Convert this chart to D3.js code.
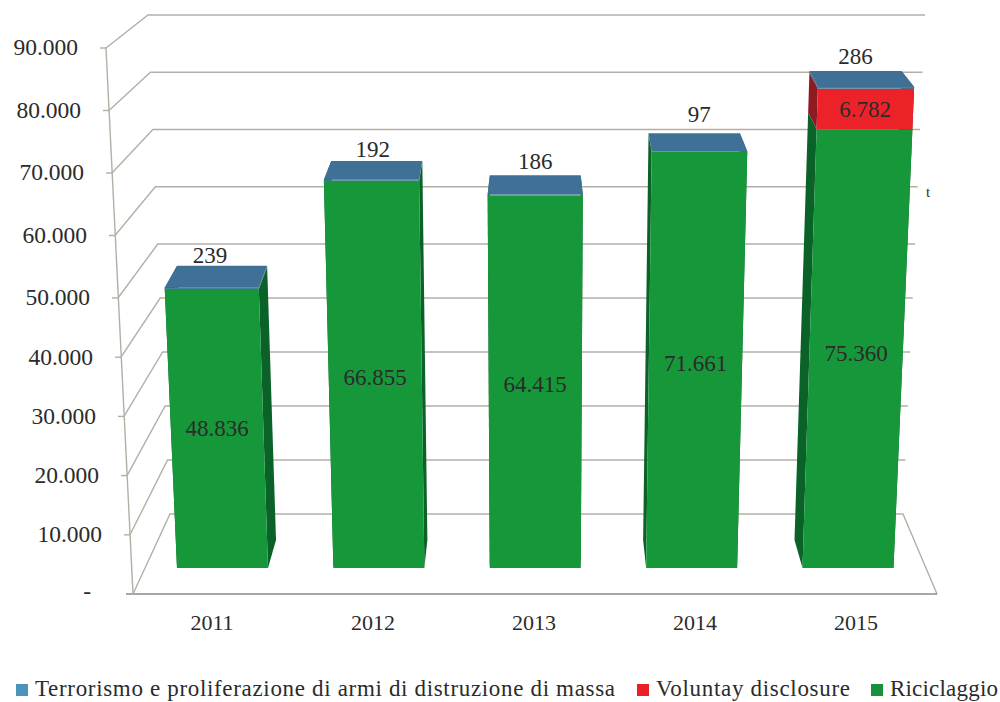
<!DOCTYPE html>
<html>
<head>
<meta charset="utf-8">
<script src="https://cdn.jsdelivr.net/npm/d3@7"></script>
<style>
  html, body { margin: 0; padding: 0; background: #fff; }
  svg { display: block; }
  text { font-family: "Liberation Serif", serif; fill: #2b2b2b; }
</style>
</head>
<body>
<svg id="chart" width="1000" height="702"></svg>
<script>
const years = ["2011", "2012", "2013", "2014", "2015"];
const riciclaggio = [48836, 66855, 64415, 71661, 75360];
const voluntary = [0, 0, 0, 0, 6782];
const terrorismo = [239, 192, 186, 97, 286];

const valueTicks = [10000, 20000, 30000, 40000, 50000, 60000, 70000, 80000, 90000];
const formatIt = v => d3.format(",")(v).replace(/,/g, ".");

const colors = {
  riciclaggio: { front: "#16973a", side: "#0b6229", top: "#16973a" },
  voluntary: { front: "#ec2228", side: "#8e1a22", top: "#ec2228" },
  terrorismo: { front: "#4a7f9e", side: "#2f5a6e", top: "#3f7196" }
};
const legendItems = [
  { name: "Terrorismo e proliferazione di armi di distruzione di massa", swatch: "#4a93ba", x: 16, textX: 35, len: 580 },
  { name: "Voluntay disclosure", swatch: "#ea2027", x: 637, textX: 656, len: 194 },
  { name: "Riciclaggio", swatch: "#17913a", x: 871, textX: 890, len: 108 }
];

const svg = d3.select("#chart");

// Perspective frame: the front and back planes of the box each have their own value scale.
const knots = [0, 50000, 90000];
const frameFrontY = d3.scaleLinear().domain(knots).range([594, 298, 48]);
const frameBackY = d3.scaleLinear().domain(knots).range([514, 244, 15]);
const frameFrontX = d3.scaleLinear().domain([0, 90000]).range([133, 106]);
const frameBackLeft = d3.scaleLinear().domain([0, 90000]).range([170, 148]);
const frameBackRight = d3.scaleLinear().domain([0, 90000]).range([903, 925]);

// Bars sit between two planes inside the box and fan out slightly as they rise.
const barFrontY = d3.scaleLinear().domain(knots).range([568, 282.4, 41.4]);
const barBackY = d3.scaleLinear().domain(knots).range([540, 260.6, 26.7]);
const barCenter = d3.scalePoint().domain(years).range([222.5, 848]);
const fan = d3.scaleLinear().domain([0, 90000]).range([1, 1.063]);
const vanishX = 535.5;

function barPoint(year, value, side, plane) {
  const back = plane === "back";
  const off = (barCenter(year) - vanishX) * (back ? 0.968 : 1);
  const half = (back ? 43.5 : 45.5) * fan(value);
  return [vanishX + off * fan(value) + side * half, (back ? barBackY : barFrontY)(value)];
}

const line = d3.line();
const gridColor = "#b4afa6";
const frame = svg.append("g").attr("fill", "none").attr("stroke", gridColor).attr("stroke-width", 1.4);

// Back wall gridlines and the diagonal return to the front axis.
frame.selectAll("path.grid").data(valueTicks).join("path").attr("class", "grid")
  .attr("d", v => line([
    [frameFrontX(v), frameFrontY(v)],
    [frameBackLeft(v), frameBackY(v)],
    [frameBackRight(v), frameBackY(v)]
  ]));

// Floor outline.
frame.append("path").attr("d", line([
  [frameFrontX(0), frameFrontY(0)], [frameBackLeft(0), frameBackY(0)],
  [frameBackRight(0), frameBackY(0)], [937, frameFrontY(0)]
]));
frame.append("path").attr("stroke", "#8d8a84").attr("stroke-width", 1.6)
  .attr("d", line([[126, frameFrontY(0)], [937, frameFrontY(0)]]));

// Slanted value axis with its tick marks.
frame.append("path").attr("d", line([[frameFrontX(90000), frameFrontY(90000)], [frameFrontX(0), frameFrontY(0)]]));
frame.selectAll("path.tick").data(valueTicks).join("path").attr("class", "tick")
  .attr("d", v => line([[frameFrontX(v) - 6, frameFrontY(v)], [frameFrontX(v), frameFrontY(v)]]));

// Value axis labels.
svg.append("g").attr("font-size", 23.5).attr("text-anchor", "end")
  .selectAll("text").data(valueTicks).join("text")
  .attr("x", v => frameFrontX(v) - 28)
  .attr("y", v => frameFrontY(v) + 2)
  .attr("dominant-baseline", "middle")
  .text(formatIt);
svg.append("text").attr("x", 91).attr("y", 594).attr("font-size", 23.5).attr("text-anchor", "end")
  .attr("dominant-baseline", "middle").text("-");

// Build stacked segments per year.
const stackOrder = [
  { key: "riciclaggio", values: riciclaggio },
  { key: "voluntary", values: voluntary },
  { key: "terrorismo", values: terrorismo }
];
const bars = years.map((year, i) => {
  let base = 0;
  const segments = [];
  stackOrder.forEach(s => {
    const v = s.values[i];
    if (v > 0) {
      segments.push({ year, key: s.key, value: v, y0: base, y1: base + v });
      base += v;
    }
  });
  return { year, total: base, segments };
});

const poly = pts => line(pts) + "Z";
const barLayer = svg.append("g");
bars.forEach(bar => {
  const g = barLayer.append("g");
  const y = bar.year;
  bar.segments.forEach(s => {
    // Side walls lie behind the front face; the one facing the vanishing point stays visible.
    g.append("path").attr("fill", colors[s.key].side).attr("d", poly([
      barPoint(y, s.y0, 1, "front"), barPoint(y, s.y0, 1, "back"),
      barPoint(y, s.y1, 1, "back"), barPoint(y, s.y1, 1, "front")
    ]));
    g.append("path").attr("fill", colors[s.key].side).attr("d", poly([
      barPoint(y, s.y0, -1, "front"), barPoint(y, s.y0, -1, "back"),
      barPoint(y, s.y1, -1, "back"), barPoint(y, s.y1, -1, "front")
    ]));
  });
  bar.segments.forEach(s => {
    g.append("path").attr("fill", colors[s.key].front).attr("d", poly([
      barPoint(y, s.y0, -1, "front"), barPoint(y, s.y0, 1, "front"),
      barPoint(y, s.y1, 1, "front"), barPoint(y, s.y1, -1, "front")
    ]));
  });
  const top = bar.segments[bar.segments.length - 1];
  g.append("path").attr("fill", colors[top.key].top).attr("d", poly([
    barPoint(y, bar.total, -1, "front"), barPoint(y, bar.total, 1, "front"),
    barPoint(y, bar.total, 1, "back"), barPoint(y, bar.total, -1, "back")
  ]));
});

// Value labels: centred on the large segments, lifted above the bar for the thin top segment.
const labelLift = [8, 9, 12, 17, 12];
const labelNudge = [-12, -4, 0, 5, 0];
const valueLabels = svg.append("g").attr("font-size", 23).attr("text-anchor", "middle");
bars.forEach((bar, i) => {
  bar.segments.forEach(s => {
    if (s.key === "terrorismo") {
      const p = barPoint(bar.year, s.y1, 0, "back");
      valueLabels.append("text").attr("x", p[0] + labelNudge[i])
        .attr("y", p[1] - labelLift[i]).attr("dominant-baseline", "middle").text(formatIt(s.value));
    } else {
      const mid = (s.y0 + s.y1) / 2;
      const p = barPoint(bar.year, mid, 0, "front");
      valueLabels.append("text").attr("x", p[0]).attr("y", p[1] + 2.5)
        .attr("dominant-baseline", "middle").text(formatIt(s.value));
    }
  });
});

// Category labels along the floor.
const categoryX = d3.scalePoint().domain(years).range([212, 856]);
svg.append("g").attr("font-size", 22).attr("text-anchor", "middle")
  .selectAll("text").data(years).join("text")
  .attr("x", d => categoryX(d)).attr("y", 625)
  .attr("dominant-baseline", "middle").text(d => d);

svg.append("text").attr("x", 928).attr("y", 194).attr("font-size", 15)
  .attr("text-anchor", "middle").attr("dominant-baseline", "middle").text("t");

// Legend row.
const legend = svg.append("g");
legendItems.forEach(item => {
  legend.append("rect").attr("x", item.x).attr("y", 684).attr("width", 12).attr("height", 12).attr("fill", item.swatch);
  legend.append("text").attr("x", item.textX).attr("y", 696).attr("font-size", 23)
    .attr("textLength", item.len).attr("lengthAdjust", "spacing").text(item.name);
});
</script>
</body>
</html>
